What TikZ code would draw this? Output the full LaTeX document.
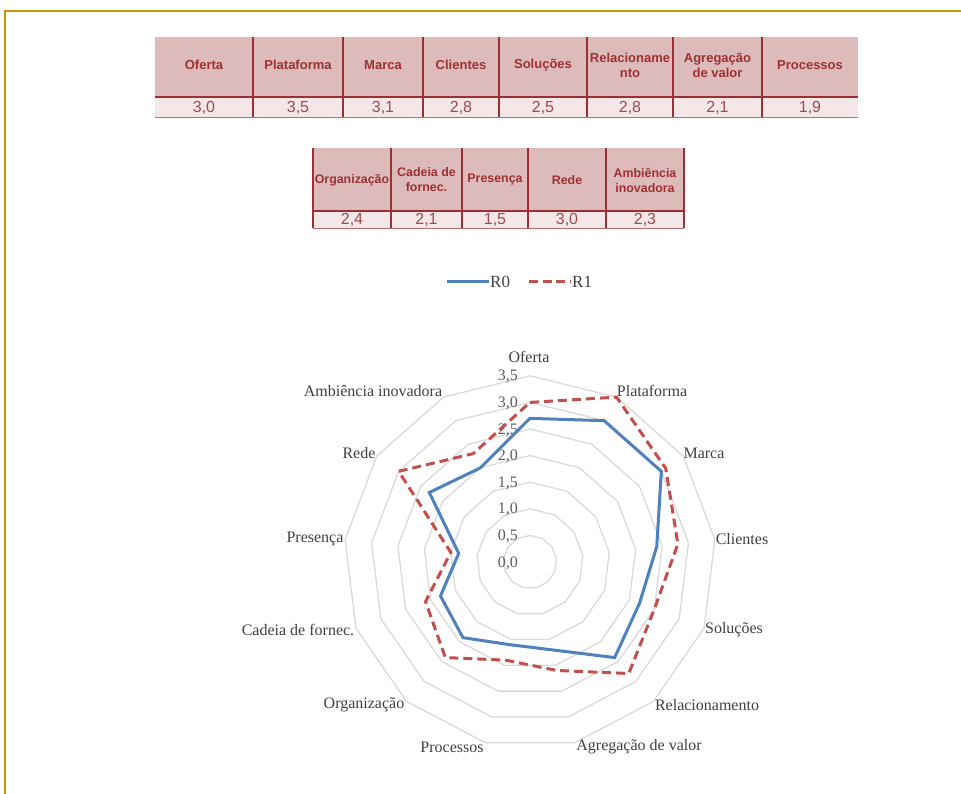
\documentclass[tikz,border=0pt]{standalone}
\usepackage{fontspec}
\setmainfont{Liberation Serif}
\newfontfamily\tabfont{Liberation Sans}
\usetikzlibrary{calc}

\definecolor{framegold}{HTML}{C8960C}
\definecolor{hdrfill}{HTML}{DDBBBB}
\definecolor{valfill}{HTML}{F5E7E7}
\definecolor{tabred}{HTML}{9E3035}
\definecolor{valtext}{HTML}{A04B4E}
\definecolor{gridgray}{HTML}{DADADA}
\definecolor{seriesblue}{HTML}{4F81BD}
\definecolor{seriesred}{HTML}{C0504D}
\definecolor{labgray}{HTML}{404040}

\tikzset{
  hdrtext/.style={font=\tabfont\bfseries\fontsize{13}{15}\selectfont, text=tabred, align=center, inner sep=0pt},
  hdrtextsm/.style={font=\tabfont\bfseries\fontsize{12.4}{15}\selectfont, text=tabred, align=center, inner sep=0pt},
  valtextst/.style={font=\tabfont\fontsize{16}{18}\selectfont, text=valtext, inner sep=0pt},
  rule/.style={tabred, line width=1.3pt},
  softrule/.style={tabred!70, line width=1pt},
  gridline/.style={gridgray, line width=1.3pt, line join=round},
  seriesA/.style={seriesblue, line width=3pt, line join=miter},
  seriesB/.style={seriesred, line width=3pt, dash pattern=on 9pt off 5pt, line join=miter},
  axislab/.style={font=\fontsize{16}{18}\selectfont, text=labgray, inner sep=0pt},
  ticklab/.style={font=\fontsize{16}{18}\selectfont, text=labgray!85, inner sep=0pt, anchor=east},
}

\begin{document}
\begin{tikzpicture}[x=1pt,y=-1pt]
\useasboundingbox (0,0) rectangle (961,794);
\fill[white] (0,0) rectangle (961,794);

% page frame
\draw[framegold, line width=2.2pt] (5,794) -- (5,11) -- (961,11);

% ---------- first table ----------
\foreach \xa/\xb/\hd/\vl [count=\i] in {
  155/253/{Oferta}/{3,0},
  253/343/{Plataforma}/{3,5},
  343/423/{Marca}/{3,1},
  423/499/{Clientes}/{2,8},
  499/587/{Soluções}/{2,5},
  587/673/{Relacioname\\nto}/{2,8},
  673/762/{Agregação\\de valor}/{2,1},
  762/858/{Processos}/{1,9}}{
  \fill[hdrfill] (\xa,37) rectangle (\xb,97);
  \fill[valfill] (\xa,97) rectangle (\xb,117);
  \node[hdrtext] (hA\i) at ({(\xa+\xb)/2},65) {\hd};
  \node[valtextst] (vA\i) at ({(\xa+\xb)/2},107.5) {\vl};
}
\foreach \xd in {253,343,423,499,587,673,762}
  \draw[rule] (\xd,37) -- (\xd,117);
\draw[rule] (155,97) -- (858,97);
\draw[softrule] (155,117.5) -- (858,117.5);

% ---------- second table ----------
\foreach \xa/\xb/\hd/\vl [count=\i] in {
  313/391/{Organização}/{2,4},
  391/462/{Cadeia de\\fornec.}/{2,1},
  462/528/{Presença}/{1,5},
  528/606/{Rede}/{3,0},
  606/684/{Ambiência\\inovadora}/{2,3}}{
  \fill[hdrfill] (\xa,148) rectangle (\xb,211);
  \fill[valfill] (\xa,211) rectangle (\xb,228);
  \node[hdrtextsm] (hB\i) at ({(\xa+\xb)/2},180) {\hd};
  \node[valtextst] (vB\i) at ({(\xa+\xb)/2},220) {\vl};
}
\foreach \xd in {313,391,462,528,606,684}
  \draw[rule] (\xd,148) -- (\xd,228.5);
\draw[rule] (313,211) -- (684,211);
\draw[softrule] (313,228.5) -- (684,228.5);

% ---------- legend ----------
\coordinate (lgA1) at (447,281.5);
\coordinate (lgA2) at (489,281.5);
\coordinate (lgB1) at (529,281.5);
\coordinate (lgB2) at (570,281.5);
\draw[seriesA] (lgA1) -- (lgA2);
\draw[seriesB, dash pattern=on 9pt off 4.5pt] (lgB1) -- (lgB2);
\node[axislab, font=\fontsize{17}{19}\selectfont, anchor=west] (lgR0) at (490,282) {R0};
\node[axislab, font=\fontsize{17}{19}\selectfont, anchor=west] (lgR1) at (572,282) {R1};

% ---------- radar chart ----------
\def\cx{530}
\def\cy{562}
\def\un{53.2}

% grid rings
\foreach \v in {0.5,1.0,1.5,2.0,2.5,3.0,3.5}{
  \draw[gridline] ({\cx},{\cy-\v*\un})
    \foreach \k in {1,...,12}{ -- ({\cx+\v*\un*sin(\k*360/13)},{\cy-\v*\un*cos(\k*360/13)}) } -- cycle;
}

% scale labels
\foreach \v/\t [count=\i] in {0/{0,0},0.5/{0,5},1.0/{1,0},1.5/{1,5},2.0/{2,0},2.5/{2,5},3.0/{3,0},3.5/{3,5}}
  \node[ticklab] (tk\i) at (518,{\cy-\v*\un+1}) {\t};

% series R0
\foreach \v [count=\k from 0] in {2.7,3.0,3.0,2.4,2.2,2.4,1.7,1.6,1.9,1.8,1.35,2.3,2.0}
  \coordinate (p\k) at ({\cx+\v*\un*sin(\k*360/13)},{\cy-\v*\un*cos(\k*360/13)});
\draw[seriesA] (p0) \foreach \k in {1,...,12}{ -- (p\k) } -- cycle;

% series R1
\foreach \v [count=\k from 0] in {3.0,3.5,3.1,2.8,2.5,2.8,2.1,1.9,2.4,2.1,1.5,3.0,2.3}
  \coordinate (q\k) at ({\cx+\v*\un*sin(\k*360/13)},{\cy-\v*\un*cos(\k*360/13)});
\draw[seriesB] (q0) \foreach \k in {1,...,12}{ -- (q\k) } -- cycle;

% category labels
\node[axislab] (cOferta) at (529,357) {Oferta};
\node[axislab] (cPlat) at (652,391) {Plataforma};
\node[axislab] (cMarca) at (704,453) {Marca};
\node[axislab] (cCli) at (742,539) {Clientes};
\node[axislab] (cSol) at (734,630) {Soluções};
\node[axislab] (cRel) at (707,705) {Relacionamento};
\node[axislab] (cAgr) at (639,747) {Agregação de valor};
\node[axislab] (cProc) at (452,747) {Processos};
\node[axislab] (cOrg) at (364,705) {Organização};
\node[axislab] (cCad) at (298,630) {Cadeia de fornec.};
\node[axislab] (cPres) at (315,539) {Presença};
\node[axislab] (cRede) at (359,453) {Rede};
\node[axislab] (cAmb) at (373,391) {Ambiência inovadora};
\end{tikzpicture}
\end{document}
